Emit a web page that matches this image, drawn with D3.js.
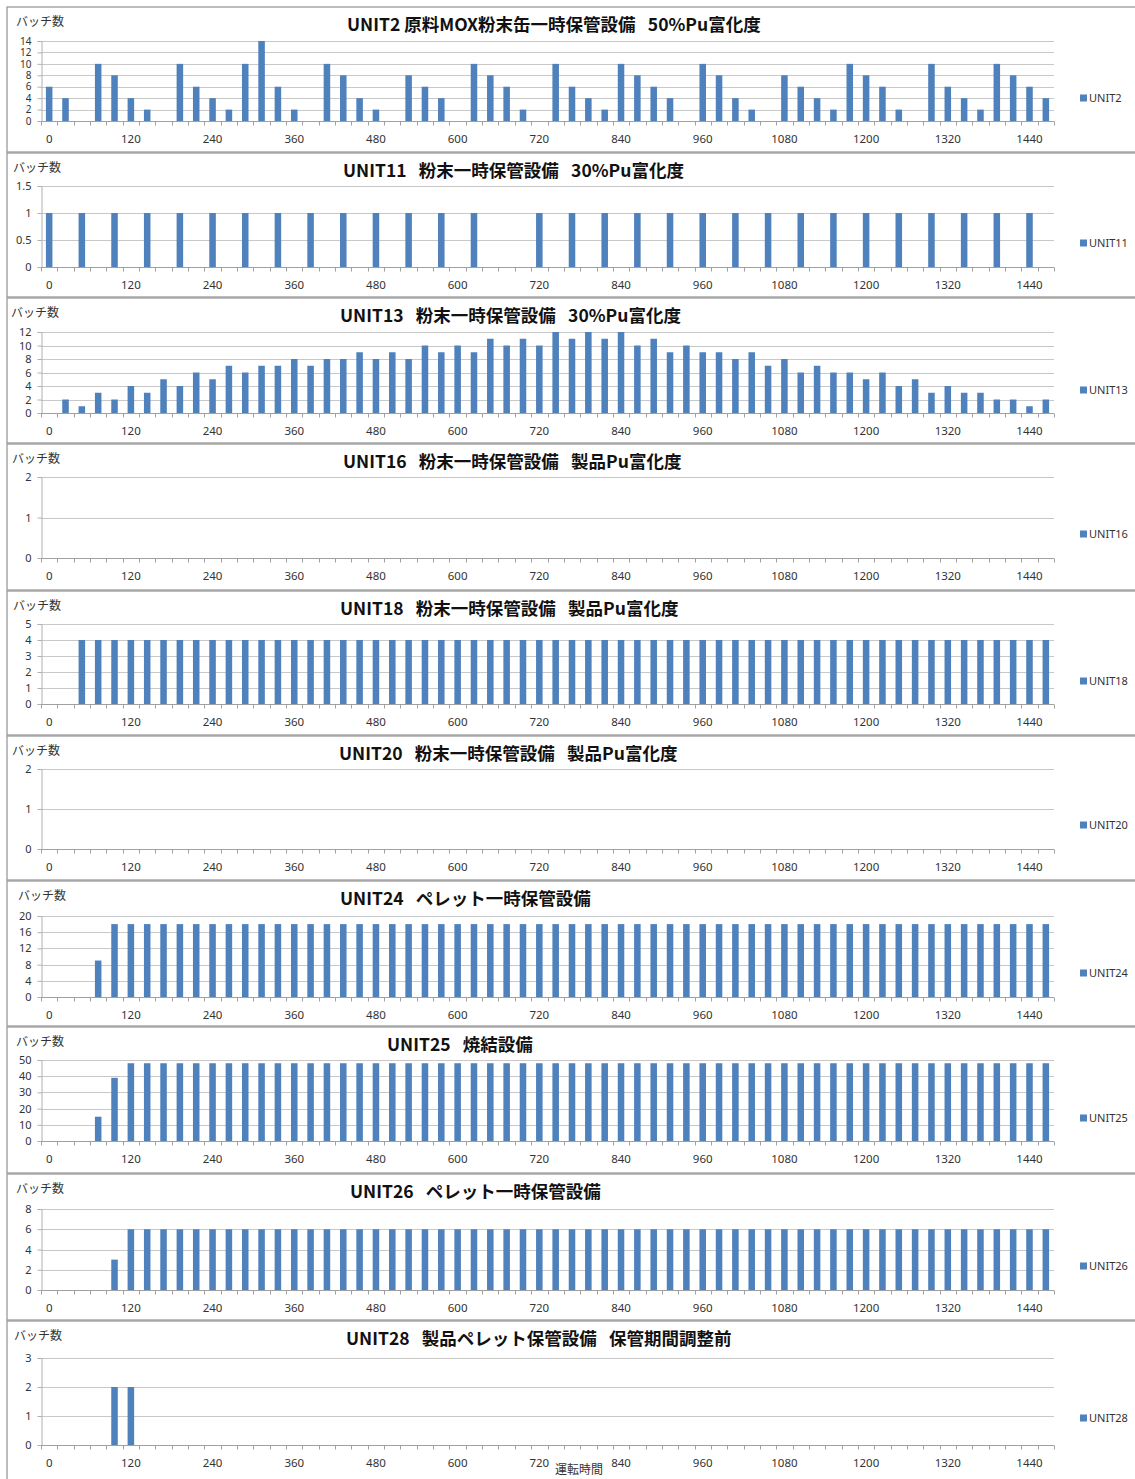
<!DOCTYPE html>
<html>
<head>
<meta charset="utf-8">
<script src="https://cdn.jsdelivr.net/npm/d3@7"></script>
<style>
  html, body { margin: 0; padding: 0; background: #fff; }
  svg { display: block; }
</style>
</head>
<body>
<div id="chart"></div>
<script>
// Operating time categories (hours), one bar slot every 24 h
const hours = [0,24,48,72,96,120,144,168,192,216,240,264,288,312,336,360,384,408,432,456,
  480,504,528,552,576,600,624,648,672,696,720,744,768,792,816,840,864,888,912,936,
  960,984,1008,1032,1056,1080,1104,1128,1152,1176,1200,1224,1248,1272,1296,1320,1344,1368,1392,1416,
  1440,1464];
const hourTickLabels = [0,120,240,360,480,600,720,840,960,1080,1200,1320,1440];

const unitNames = ["UNIT2","UNIT11","UNIT13","UNIT16","UNIT18","UNIT20","UNIT24","UNIT25","UNIT26","UNIT28"];
const unitTitles = [
  "UNIT2 原料MOX粉末缶一時保管設備\u2002\u200950%Pu富化度",
  "UNIT11\u2002\u2009粉末一時保管設備\u2002\u200930%Pu富化度",
  "UNIT13\u2002\u2009粉末一時保管設備\u2002\u200930%Pu富化度",
  "UNIT16\u2002\u2009粉末一時保管設備\u2002\u2009製品Pu富化度",
  "UNIT18\u2002\u2009粉末一時保管設備\u2002\u2009製品Pu富化度",
  "UNIT20\u2002\u2009粉末一時保管設備\u2002\u2009製品Pu富化度",
  "UNIT24\u2002\u2009ペレット一時保管設備",
  "UNIT25\u2002\u2009焼結設備",
  "UNIT26\u2002\u2009ペレット一時保管設備",
  "UNIT28\u2002\u2009製品ペレット保管設備\u2002\u2009保管期間調整前"
];
const yMaxima = [14, 1.5, 12, 2, 5, 2, 20, 50, 8, 3];
const yTickValues = [
  [0,2,4,6,8,10,12,14],
  [0,0.5,1,1.5],
  [0,2,4,6,8,10,12],
  [0,1,2],
  [0,1,2,3,4,5],
  [0,1,2],
  [0,4,8,12,16,20],
  [0,10,20,30,40,50],
  [0,2,4,6,8],
  [0,1,2,3]
];

// Batch counts per 24 h slot
const unit2 = [6,4,0,10,8,4,2,0,10,6, 4,2,10,14,6,2,0,10,8,4, 2,0,8,6,4,0,10,8,6,2,
  0,10,6,4,2,10,8,6,4,0, 10,8,4,2,0,8,6,4,2,10, 8,6,2,0,10,6,4,2,10,8, 6,4];
const unit11 = [1,0,1,0,1,0,1,0,1,0, 1,0,1,0,1,0,1,0,1,0, 1,0,1,0,1,0,1,0,0,0,
  1,0,1,0,1,0,1,0,1,0, 1,0,1,0,1,0,1,0,1,0, 1,0,1,0,1,0,1,0,1,0, 1,0];
const unit13 = [0,2,1,3,2,4,3,5,4,6, 5,7,6,7,7,8,7,8,8,9, 8,9,8,10,9,10,9,11,10,11,
  10,12,11,12,11,12,10,11,9,10, 9,9,8,9,7,8,6,7,6,6, 5,6,4,5,3,4,3,3,2,2, 1,2];
const unit16 = [0,0,0,0,0,0,0,0,0,0, 0,0,0,0,0,0,0,0,0,0, 0,0,0,0,0,0,0,0,0,0,
  0,0,0,0,0,0,0,0,0,0, 0,0,0,0,0,0,0,0,0,0, 0,0,0,0,0,0,0,0,0,0, 0,0];
const unit18 = [0,0,4,4,4,4,4,4,4,4, 4,4,4,4,4,4,4,4,4,4, 4,4,4,4,4,4,4,4,4,4,
  4,4,4,4,4,4,4,4,4,4, 4,4,4,4,4,4,4,4,4,4, 4,4,4,4,4,4,4,4,4,4, 4,4];
const unit20 = [0,0,0,0,0,0,0,0,0,0, 0,0,0,0,0,0,0,0,0,0, 0,0,0,0,0,0,0,0,0,0,
  0,0,0,0,0,0,0,0,0,0, 0,0,0,0,0,0,0,0,0,0, 0,0,0,0,0,0,0,0,0,0, 0,0];
const unit24 = [0,0,0,9,18,18,18,18,18,18, 18,18,18,18,18,18,18,18,18,18, 18,18,18,18,18,18,18,18,18,18,
  18,18,18,18,18,18,18,18,18,18, 18,18,18,18,18,18,18,18,18,18, 18,18,18,18,18,18,18,18,18,18, 18,18];
const unit25 = [0,0,0,15,39,48,48,48,48,48, 48,48,48,48,48,48,48,48,48,48, 48,48,48,48,48,48,48,48,48,48,
  48,48,48,48,48,48,48,48,48,48, 48,48,48,48,48,48,48,48,48,48, 48,48,48,48,48,48,48,48,48,48, 48,48];
const unit26 = [0,0,0,0,3,6,6,6,6,6, 6,6,6,6,6,6,6,6,6,6, 6,6,6,6,6,6,6,6,6,6,
  6,6,6,6,6,6,6,6,6,6, 6,6,6,6,6,6,6,6,6,6, 6,6,6,6,6,6,6,6,6,6, 6,6];
const unit28 = [0,0,0,0,2,2,0,0,0,0, 0,0,0,0,0,0,0,0,0,0, 0,0,0,0,0,0,0,0,0,0,
  0,0,0,0,0,0,0,0,0,0, 0,0,0,0,0,0,0,0,0,0, 0,0,0,0,0,0,0,0,0,0, 0,0];
const unitSeries = [unit2, unit11, unit13, unit16, unit18, unit20, unit24, unit25, unit26, unit28];

// Panel geometry: frame top/bottom, plot top/bottom, title start, y-label start, legend row
const panelLayout = [
  {top: 7,    bottom: 152,  plotTop: 41,   plotBottom: 121,  titleX: 347, unitLabelX: 16, legendY: 98,   yFont: 10},
  {top: 153,  bottom: 297,  plotTop: 186,  plotBottom: 267,  titleX: 343, unitLabelX: 13, legendY: 243,  yFont: 11},
  {top: 298,  bottom: 443,  plotTop: 332,  plotBottom: 413,  titleX: 340, unitLabelX: 11, legendY: 390,  yFont: 11},
  {top: 444,  bottom: 590,  plotTop: 477,  plotBottom: 558,  titleX: 343, unitLabelX: 12, legendY: 534,  yFont: 11},
  {top: 591,  bottom: 735,  plotTop: 624,  plotBottom: 704,  titleX: 340, unitLabelX: 13, legendY: 681,  yFont: 11},
  {top: 736,  bottom: 880,  plotTop: 769,  plotBottom: 849,  titleX: 339, unitLabelX: 12, legendY: 825,  yFont: 11},
  {top: 881,  bottom: 1026, plotTop: 916,  plotBottom: 997,  titleX: 340, unitLabelX: 18, legendY: 973,  yFont: 11},
  {top: 1027, bottom: 1173, plotTop: 1060, plotBottom: 1141, titleX: 387, unitLabelX: 16, legendY: 1118, yFont: 11},
  {top: 1174, bottom: 1320, plotTop: 1209, plotBottom: 1290, titleX: 350, unitLabelX: 16, legendY: 1266, yFont: 11},
  {top: 1321, bottom: 1485, plotTop: 1358, plotBottom: 1445, titleX: 346, unitLabelX: 14, legendY: 1418, yFont: 11}
];

const W = 1135, H = 1479;
const plotLeft = 41, plotRight = 1054;
const barColor = "#4f81bd";
const tickFont = "'Noto Sans', 'Liberation Sans', sans-serif";
const cjkFont = "'Noto Sans CJK JP', 'Noto Sans', sans-serif";

const svg = d3.select("#chart").append("svg")
  .attr("width", W).attr("height", H)
  .style("background", "#fff");

const x = d3.scaleBand().domain(hours).range([plotLeft, plotRight]).paddingInner(0.6).paddingOuter(0.3);
const step = x.step();

unitNames.forEach((name, i) => {
  const L = panelLayout[i];
  const g = svg.append("g");

  // chart frame
  g.append("rect")
    .attr("x", 7).attr("y", L.top)
    .attr("width", W + 20).attr("height", L.bottom - L.top)
    .attr("fill", "#fff").attr("stroke", "#9a9a9a").attr("stroke-width", 1.3);

  const y = d3.scaleLinear().domain([0, yMaxima[i]]).range([L.plotBottom, L.plotTop]);

  // horizontal gridlines
  g.append("g").selectAll("line")
    .data(yTickValues[i].filter(v => v > 0))
    .join("line")
    .attr("x1", plotLeft).attr("x2", plotRight)
    .attr("y1", d => Math.round(y(d)) + 0.5).attr("y2", d => Math.round(y(d)) + 0.5)
    .attr("stroke", "#c8c8c8").attr("stroke-width", 1);

  // y axis
  const yAxis = d3.axisLeft(y).tickValues(yTickValues[i]).tickSize(4).tickPadding(6)
    .tickFormat(d3.format("~g"));
  const ya = g.append("g").attr("transform", `translate(${plotLeft + 0.5},0)`).call(yAxis);
  ya.select(".domain").attr("stroke", "#b0b0b0");
  ya.selectAll(".tick line").attr("stroke", "#b0b0b0");
  ya.selectAll(".tick text").attr("font-family", tickFont).attr("font-size", L.yFont).attr("fill", "#333");

  // bars
  g.append("g").selectAll("rect")
    .data(hours.map((h, k) => ({h, v: unitSeries[i][k]})).filter(d => d.v > 0))
    .join("rect")
    .attr("x", d => x(d.h))
    .attr("width", x.bandwidth())
    .attr("y", d => y(d.v))
    .attr("height", d => y(0) - y(d.v))
    .attr("fill", barColor);

  // x axis: ticks at category boundaries, labels every five categories
  const base = Math.round(y(0)) + 0.5;
  g.append("line")
    .attr("x1", plotLeft).attr("x2", plotRight)
    .attr("y1", base).attr("y2", base)
    .attr("stroke", "#a0a0a0");
  const boundaries = hours.map(h => x(h) - step * 0.3).concat([plotRight]);
  g.append("g").selectAll("line")
    .data(boundaries)
    .join("line")
    .attr("x1", d => Math.round(d) + 0.5).attr("x2", d => Math.round(d) + 0.5)
    .attr("y1", base).attr("y2", base + 4)
    .attr("stroke", "#a0a0a0");
  g.append("g").selectAll("text")
    .data(hourTickLabels)
    .join("text")
    .attr("x", d => x(d) + x.bandwidth() / 2)
    .attr("y", base + 17)
    .attr("dy", "0.35em")
    .attr("text-anchor", "middle")
    .attr("font-family", tickFont).attr("font-size", 11.5).attr("fill", "#333")
    .text(d => d);

  // title
  g.append("text")
    .attr("x", L.titleX).attr("y", L.top + 18).attr("dy", "0.35em")
    .attr("font-family", cjkFont).attr("font-weight", "bold").attr("font-size", 17.5)
    .attr("fill", "#111")
    .text(unitTitles[i]);

  // y axis unit label
  g.append("text")
    .attr("x", L.unitLabelX).attr("y", L.top + 15).attr("dy", "0.35em")
    .attr("font-family", cjkFont).attr("font-size", 12).attr("fill", "#333")
    .text("バッチ数");

  // legend
  g.append("rect")
    .attr("x", 1080).attr("y", L.legendY - 3.5).attr("width", 7).attr("height", 7)
    .attr("fill", barColor);
  g.append("text")
    .attr("x", 1089).attr("y", L.legendY).attr("dy", "0.35em")
    .attr("font-family", tickFont).attr("font-size", 11).attr("fill", "#333")
    .text(name);
});

// x axis title under the last panel
svg.append("text")
  .attr("x", 579).attr("y", 1470).attr("dy", "0.35em")
  .attr("text-anchor", "middle")
  .attr("font-family", cjkFont).attr("font-size", 12).attr("fill", "#333")
  .text("運転時間");
</script>
</body>
</html>
